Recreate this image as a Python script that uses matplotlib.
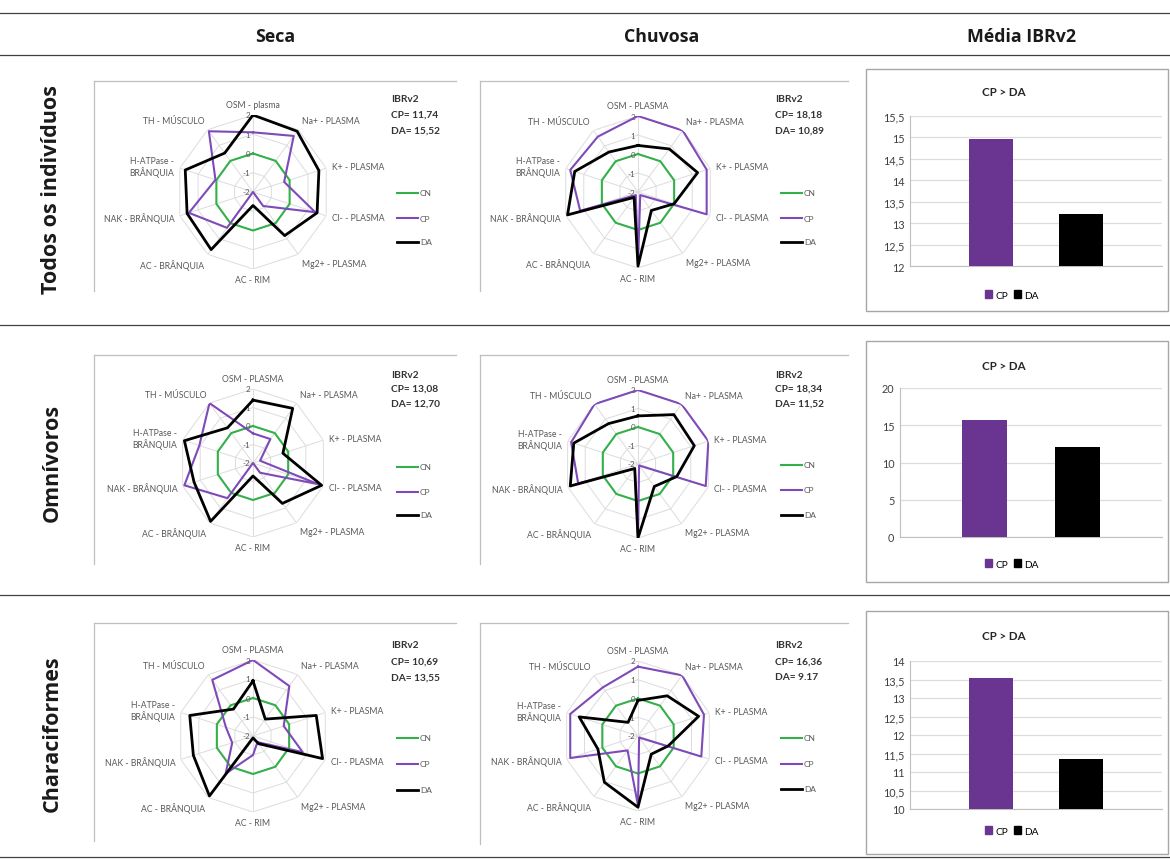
import numpy as np
import matplotlib
matplotlib.use("Agg")
import matplotlib.pyplot as plt
from matplotlib.lines import Line2D
from matplotlib.patches import Rectangle

# ---------------- data ----------------
col_headers = ["Seca", "Chuvosa", "Média IBRv2"]
row_headers = ["Todos os indivíduos", "Omnívoros", "Characiformes"]

categories = ["OSM - PLASMA", "Na+ - PLASMA", "K+ - PLASMA", "Cl- - PLASMA",
              "Mg2+ - PLASMA", "AC - RIM", "AC - BRÂNQUIA", "NAK - BRÂNQUIA",
              "H-ATPase -\nBRÂNQUIA", "TH - MÚSCULO"]
categories_first = ["OSM - plasma"] + categories[1:]

series_names = ["CN", "CP", "DA"]
cn_values = [0, 0, 0, 0, 0, 0, 0, 0, 0, 0]

seca_todos_cp = [1.1, 1.6, -0.3, 1.4, -1.1, -2.0, 0.3, 1.5, 0.05, 1.9]
seca_todos_da = [2.0, 1.9, 1.6, 1.5, 0.8, -1.3, 1.7, 1.6, 1.7, 0.5]
chuv_todos_cp = [2.0, 2.0, 1.8, 1.8, -1.8, 1.8, -1.8, 1.2, 1.75, 1.6]
chuv_todos_da = [0.45, 0.8, 1.3, 0.0, -0.8, 1.9, -1.65, 1.9, 1.5, 0.6]

seca_omni_cp = [-0.4, -0.4, -1.6, 1.7, -1.35, -2.0, 0.35, 1.9, 1.05, 2.0]
seca_omni_da = [1.4, 1.65, -0.3, 1.9, 0.7, -1.3, 1.9, 1.35, 1.9, 0.35]
chuv_omni_cp = [2.0, 2.0, 2.0, 1.85, -1.9, 2.0, -1.7, 1.4, 1.8, 2.0]
chuv_omni_da = [0.6, 1.3, 1.2, 0.2, -0.5, 2.0, -1.7, 1.85, 1.65, 0.7]

seca_char_cp = [2.0, 1.25, -0.3, 0.75, -1.6, -1.0, 0.45, -0.85, -0.5, 1.65]
seca_char_da = [0.9, -0.9, 1.5, 1.85, -1.5, -1.9, 1.9, 1.3, 1.5, -0.25]
chuv_char_cp = [1.7, 2.0, 1.7, 1.55, -1.9, 1.7, -1.05, 1.8, 1.8, 1.2]
chuv_char_da = [-0.1, 0.65, 1.4, -0.3, -0.8, 1.8, 1.05, 0.25, 1.3, -1.1]

radar_ticks = [2, 1, 0, -1, -2]

ibr_labels = [["CP= 11,74", "DA= 15,52"], ["CP= 18,18", "DA= 10,89"],
              ["CP= 13,08", "DA= 12,70"], ["CP= 18,34", "DA= 11,52"],
              ["CP= 10,69", "DA= 13,55"], ["CP= 16,36", "DA= 9.17"]]

bar_names = ["CP", "DA"]
cp_means = [14.96, 15.71, 13.53]
da_means = [13.21, 12.11, 11.36]
bar_ylims = [(12, 15.5), (0, 20), (10, 14)]
bar_yticks = [[12, 12.5, 13, 13.5, 14, 14.5, 15, 15.5],
              [0, 5, 10, 15, 20],
              [10, 10.5, 11, 11.5, 12, 12.5, 13, 13.5, 14]]
bar_yticklabels = [["12", "12,5", "13", "13,5", "14", "14,5", "15", "15,5"],
                   ["0", "5", "10", "15", "20"],
                   ["10", "10,5", "11", "11,5", "12", "12,5", "13", "13,5", "14"]]
bar_title = "CP > DA"

# ---------------- style ----------------
W, H = 1170, 862
GREEN = "#33b04a"
PURPLE = "#7d4ab8"
BARPURPLE = "#6a3591"
GRID = "#dcdcdc"
TXT = "#595959"
FONT = "Lato"

fig = plt.figure(figsize=(W / 100, H / 100), dpi=100)
fig.patch.set_facecolor("white")


def fx(x):
    return x / W


def fy(y):
    return 1 - y / H


def hline(y, x0=0, x1=W, color="#404040", lw=0.9):
    fig.add_artist(Line2D([fx(x0), fx(x1)], [fy(y), fy(y)], color=color, lw=lw,
                          transform=fig.transFigure))


def vline(x, y0, y1, color="#bfbfbf", lw=0.9):
    fig.add_artist(Line2D([fx(x), fx(x)], [fy(y0), fy(y1)], color=color, lw=lw,
                          transform=fig.transFigure))


# table lines
for y in [14, 56, 326, 596, 858]:
    hline(y)

# headers
for txt, x in zip(col_headers, [275, 662, 1022]):
    fig.text(fx(x), fy(37), txt, ha="center", va="center", fontsize=12.8,
             fontweight="bold", family="Open Sans", color="#1a1a1a")
for txt, y in zip(row_headers, [190, 463, 734]):
    fig.text(fx(52), fy(y), txt, ha="center", va="center", fontsize=15.5,
             fontweight="bold", family="Open Sans", color="#1a1a1a", rotation=90)

angles = np.linspace(0, 2 * np.pi, len(categories), endpoint=False)
ang_closed = np.concatenate([angles, angles[:1]])


def closed(v):
    v = list(v)
    return v + v[:1]


def radar(cx, cy, R, cp, da, cats):
    ax = fig.add_axes([fx(cx - R), fy(cy + R), 2 * R / W, 2 * R / H],
                      projection="polar")
    ax.set_theta_zero_location("N")
    ax.set_theta_direction(-1)
    ax.set_ylim(-2, 2)
    ax.grid(False)
    ax.set_xticks([])
    ax.set_yticks([])
    ax.spines["polar"].set_visible(False)
    ax.patch.set_alpha(0)
    for lvl in [-1, 0, 1, 2]:
        ax.plot(ang_closed, [lvl] * len(ang_closed), color=GRID, lw=0.7, zorder=1)
    for a in angles:
        ax.plot([a, a], [-2, 2], color=GRID, lw=0.7, zorder=1)
    ax.plot(ang_closed, closed(cn_values), color=GREEN, lw=1.5, zorder=3)
    ax.plot(ang_closed, closed(cp), color=PURPLE, lw=1.5, zorder=4)
    ax.plot(ang_closed, closed(da), color="black", lw=2.0, zorder=5)
    for t in radar_ticks:
        ax.annotate(str(t), xy=(0, t), xytext=(-2, 0), textcoords="offset points",
                    ha="right", va="center", fontsize=5.8, color=TXT,
                    family=FONT, annotation_clip=False)
    for a, lab in zip(angles, cats):
        s, c = np.sin(a), np.cos(a)
        ha = "left" if s > 0.1 else ("right" if s < -0.1 else "center")
        va = "bottom" if c > 0.5 else ("top" if c < -0.5 else "center")
        off = 4
        ax.annotate(lab, xy=(a, 2), xytext=(off * s, off * c),
                    textcoords="offset points", ha=ha, va=va, fontsize=6.2,
                    color=TXT, family=FONT, annotation_clip=False,
                    linespacing=1.1)
    return ax


def side_box(x_text, y_ibr, ys_leg, labels):
    for yy, s in zip(y_ibr, ["IBRv2"] + labels):
        fig.text(fx(x_text), fy(yy), s, ha="left", va="center",
                 fontsize=7.3, fontweight="bold", family=FONT, color="#333333")
    cols = [GREEN, PURPLE, "black"]
    lws = [1.5, 1.5, 2.0]
    for yl, col, lw, nm in zip(ys_leg, cols, lws, series_names):
        fig.add_artist(Line2D([fx(x_text + 6), fx(x_text + 27)], [fy(yl), fy(yl)],
                              color=col, lw=lw, transform=fig.transFigure))
        fig.text(fx(x_text + 29), fy(yl), nm, ha="left", va="center",
                 fontsize=6, family=FONT, color=TXT)


# radar panels: (cx, cy, R, cp, da, cats, box)
radar_specs = [
    (253, 193, 77, seca_todos_cp, seca_todos_da, categories_first, (94, 82, 456, 292)),
    (638, 193, 76, chuv_todos_cp, chuv_todos_da, categories, (480, 82, 848, 292)),
    (253, 464, 74, seca_omni_cp, seca_omni_da, categories, (94, 356, 456, 565)),
    (638, 465, 74, chuv_omni_cp, chuv_omni_da, categories, (480, 356, 848, 565)),
    (253, 737, 76, seca_char_cp, seca_char_da, categories, (94, 624, 456, 842)),
    (638, 737, 75, chuv_char_cp, chuv_char_da, categories, (480, 624, 848, 845)),
]
side_specs = [
    (391, (100, 115, 131), (194, 219, 243)),
    (775, (100, 115, 131), (194, 219, 243)),
    (391, (375, 389, 404), (468, 493, 516)),
    (775, (375, 389, 404), (466, 491, 516)),
    (391, (646, 662, 678), (739, 765, 791)),
    (775, (646, 662, 678), (739, 765, 790)),
]

for (cx, cy, R, cp, da, cats, box), (xt, yi, yl), labs in zip(radar_specs, side_specs, ibr_labels):
    x0, y0, x1, y1 = box
    vline(x0, y0, y1)
    hline(y0, x0, x1, color="#bfbfbf")
    radar(cx, cy, R, cp, da, cats)
    side_box(xt, yi, yl, labs)

# bar panels
bar_specs = [
    ((866, 70, 1168, 312), (910, 117, 1162, 267), 92, 296),
    ((866, 342, 1168, 583), (900, 389, 1162, 538), 367, 565),
    ((866, 612, 1168, 855), (910, 662, 1162, 810), 637, 832),
]
for i, (box, axbox, ytitle, yleg) in enumerate(bar_specs):
    bx0, by0, bx1, by1 = box
    fig.add_artist(Rectangle((fx(bx0), fy(by1)), (bx1 - bx0) / W, (by1 - by0) / H,
                             fill=False, edgecolor="#a6a6a6", lw=1.0,
                             transform=fig.transFigure))
    ax0, ay0, ax1, ay1 = axbox
    ax = fig.add_axes([fx(ax0), fy(ay1), (ax1 - ax0) / W, (ay1 - ay0) / H])
    vals = [cp_means[i], da_means[i]]
    ax.bar([0, 1], vals, width=0.49, color=[BARPURPLE, "black"], zorder=3)
    ax.set_xlim(-0.91, 1.91)
    ax.set_ylim(*bar_ylims[i])
    ax.set_yticks(bar_yticks[i])
    ax.set_yticklabels(bar_yticklabels[i], fontsize=7.8, family=FONT, color="#404040")
    ax.set_xticks([])
    ax.yaxis.grid(True, color=GRID, lw=0.9, zorder=0)
    ax.tick_params(axis="y", length=0, pad=4)
    for sp in ["top", "right"]:
        ax.spines[sp].set_visible(False)
    ax.spines["left"].set_color("#bfbfbf")
    ax.spines["bottom"].set_color("#bfbfbf")
    ax.set_facecolor("none")
    fig.text(fx(1004), fy(ytitle), bar_title, ha="center", va="center",
             fontsize=8.3, fontweight="bold", family=FONT, color="#262626")
    handles = [Rectangle((0, 0), 1, 1, color=BARPURPLE), Rectangle((0, 0), 1, 1, color="black")]
    fig.legend(handles, bar_names, loc="center", bbox_to_anchor=(fx(1012), fy(yleg)),
               ncol=2, frameon=False, handlelength=0.7, handleheight=0.7,
               handletextpad=0.3, columnspacing=0.6, prop={"family": FONT, "size": 7.3})

fig.savefig("out.png", dpi=100, facecolor="white")
